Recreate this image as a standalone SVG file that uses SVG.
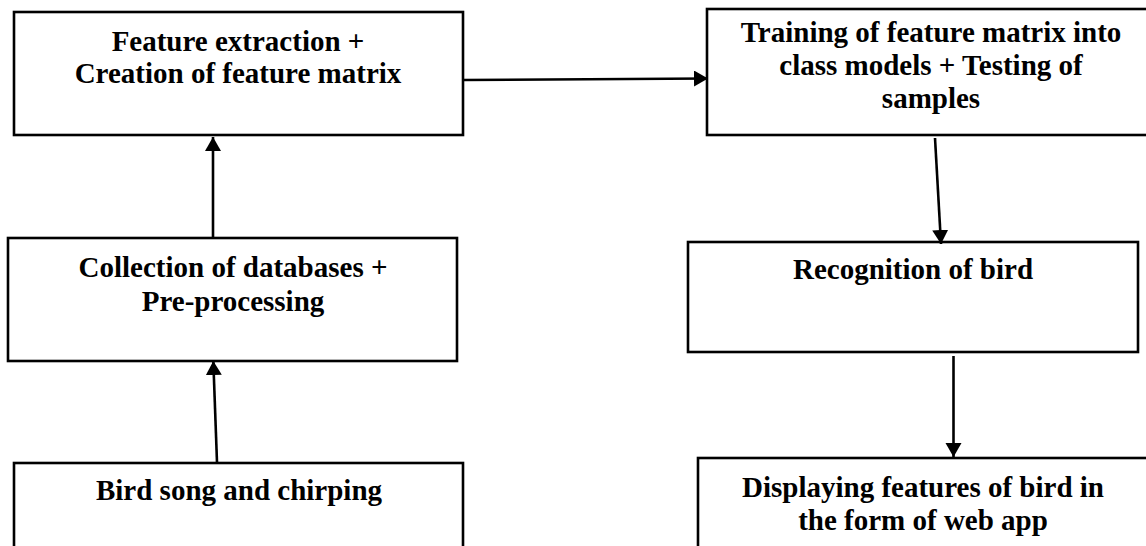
<svg xmlns="http://www.w3.org/2000/svg" width="1146" height="546" viewBox="0 0 1146 546">
<style>
.box{fill:#fff;stroke:#000;stroke-width:2.6}
.lbl{font-family:"Liberation Serif","Times New Roman",serif;font-weight:bold;font-size:29px;fill:#000;text-anchor:middle}
.con{stroke:#000;stroke-width:2.6;fill:none}
</style>
<defs>
<marker id="ah" markerUnits="userSpaceOnUse" markerWidth="16" markerHeight="18" refX="14" refY="8" orient="auto">
<path d="M0,0 L14,8 L0,16 Z" fill="#000"/>
</marker>
</defs>
<rect width="1146" height="546" fill="#fff"/>
<g id="n-feature">
<rect class="box" x="14" y="12" width="449" height="123"/>
<text class="lbl" x="238" y="51" font-family="Liberation Serif, serif">Feature extraction +</text>
<text class="lbl" x="238" y="83" font-family="Liberation Serif, serif">Creation of feature matrix</text>
</g>
<g id="n-training">
<rect class="box" x="707" y="9" width="445" height="126"/>
<text class="lbl" x="931" y="42" font-family="Liberation Serif, serif">Training of feature matrix into</text>
<text class="lbl" x="931" y="75" font-family="Liberation Serif, serif">class models + Testing of</text>
<text class="lbl" x="931" y="108" font-family="Liberation Serif, serif">samples</text>
</g>
<g id="n-collection">
<rect class="box" x="8" y="238" width="449" height="123"/>
<text class="lbl" x="233" y="277" font-family="Liberation Serif, serif">Collection of databases +</text>
<text class="lbl" x="233" y="311" font-family="Liberation Serif, serif">Pre-processing</text>
</g>
<g id="n-recognition">
<rect class="box" x="688" y="242" width="450" height="110"/>
<text class="lbl" x="913" y="279" font-family="Liberation Serif, serif">Recognition of bird</text>
</g>
<g id="n-bird">
<rect class="box" x="14" y="463" width="449" height="100"/>
<text class="lbl" x="239" y="500" font-family="Liberation Serif, serif">Bird song and chirping</text>
</g>
<g id="n-display">
<rect class="box" x="698" y="458" width="455" height="100"/>
<text class="lbl" x="923" y="497" font-family="Liberation Serif, serif">Displaying features of bird in</text>
<text class="lbl" x="923" y="530" font-family="Liberation Serif, serif">the form of web app</text>
</g>
<g id="connectors">
<line class="con" x1="213" y1="238" x2="213" y2="137" marker-end="url(#ah)"/>
<line class="con" x1="217" y1="462" x2="213.3" y2="361" marker-end="url(#ah)"/>
<line class="con" x1="463" y1="80" x2="708" y2="78.5" marker-end="url(#ah)"/>
<line class="con" x1="935" y1="138" x2="941" y2="244" marker-end="url(#ah)"/>
<line class="con" x1="953.5" y1="356" x2="953.5" y2="457" marker-end="url(#ah)"/>
</g>
</svg>
